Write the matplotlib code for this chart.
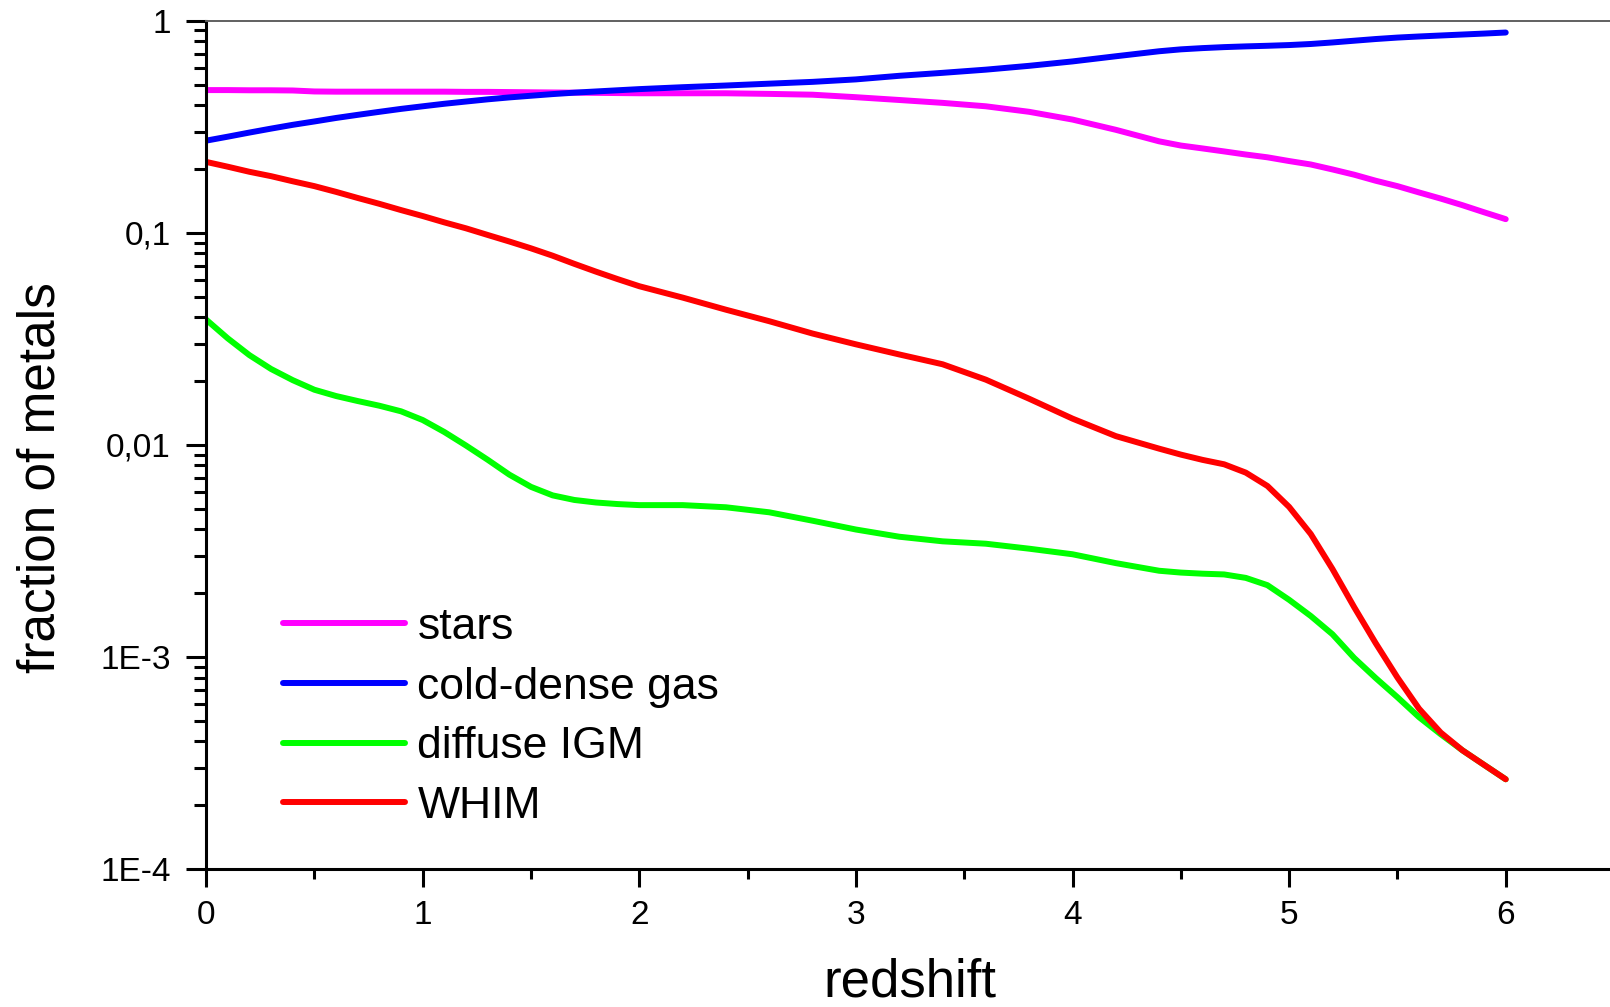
import matplotlib
matplotlib.use("Agg")
import matplotlib.pyplot as plt
from matplotlib.ticker import FixedLocator, FixedFormatter, MultipleLocator, LogLocator, NullFormatter

plt.rcParams["font.family"] = ["Liberation Sans", "DejaVu Sans"]

# redshift grid of the curves
redshift = [0.0, 0.1, 0.2, 0.3, 0.4, 0.5, 0.6, 0.7, 0.8, 0.9, 1.0, 1.1, 1.2, 1.3, 1.4,
            1.5, 1.6, 1.7, 1.8, 1.9, 2.0, 2.2, 2.4, 2.6, 2.8, 3.0, 3.2, 3.4, 3.6, 3.8,
            4.0, 4.2, 4.4, 4.5, 4.6, 4.7, 4.8, 4.9, 5.0, 5.1, 5.2, 5.3, 5.4, 5.5, 5.6,
            5.7, 5.8, 5.9, 6.0]

stars = [0.471, 0.471, 0.470, 0.470, 0.469, 0.464, 0.463, 0.463, 0.463, 0.463, 0.463,
         0.463, 0.462, 0.462, 0.461, 0.460, 0.459, 0.458, 0.457, 0.456, 0.455, 0.455,
         0.455, 0.452, 0.448, 0.436, 0.423, 0.410, 0.395, 0.372, 0.342, 0.306, 0.270,
         0.258, 0.250, 0.242, 0.234, 0.227, 0.218, 0.210, 0.199, 0.188, 0.176, 0.166,
         0.155, 0.145, 0.135, 0.125, 0.116]

cold_dense = [0.272, 0.284, 0.297, 0.310, 0.323, 0.335, 0.348, 0.360, 0.372, 0.384, 0.395,
              0.406, 0.416, 0.426, 0.435, 0.443, 0.451, 0.458, 0.464, 0.470, 0.476, 0.486,
              0.495, 0.505, 0.515, 0.529, 0.550, 0.568, 0.588, 0.613, 0.643, 0.680, 0.718,
              0.733, 0.743, 0.751, 0.757, 0.762, 0.768, 0.777, 0.790, 0.805, 0.820, 0.833,
              0.843, 0.852, 0.861, 0.870, 0.880]

diffuse_igm = [0.0390, 0.0318, 0.0265, 0.0228, 0.0202, 0.0182, 0.0170, 0.0161, 0.0153,
               0.0144, 0.0131, 0.0115, 0.00993, 0.00851, 0.00724, 0.00634, 0.00578,
               0.00550, 0.00535, 0.00526, 0.00520, 0.00520, 0.00508, 0.00481, 0.00439,
               0.00399, 0.00369, 0.00351, 0.00342, 0.00324, 0.00305, 0.00277, 0.00255,
               0.00250, 0.00247, 0.00245, 0.00236, 0.00218, 0.00186, 0.00156, 0.00128,
               0.00099, 0.000795, 0.000646, 0.000520, 0.000432, 0.000363, 0.000310,
               0.000265]

whim = [0.216, 0.205, 0.194, 0.185, 0.175, 0.166, 0.156, 0.146, 0.137, 0.128, 0.120,
        0.112, 0.105, 0.0977, 0.0910, 0.0845, 0.0780, 0.0714, 0.0656, 0.0605, 0.0560,
        0.0495, 0.0434, 0.0383, 0.0335, 0.0298, 0.0267, 0.0240, 0.0203, 0.0165, 0.0133,
        0.0110, 0.0096, 0.0090, 0.0085, 0.0081, 0.0074, 0.0064, 0.0051, 0.0038, 0.0026,
        0.00172, 0.00116, 0.00080, 0.00057, 0.00044, 0.000363, 0.000310, 0.000265]

series_names = ["stars", "cold-dense gas", "diffuse IGM", "WHIM"]
series_colors = ["#ff00ff", "#0000ff", "#00ff00", "#ff0000"]

y_ticks = [1e-4, 1e-3, 1e-2, 1e-1, 1]
y_tick_labels = ["1E-4", "1E-3", "0,01", "0,1", "1"]
x_ticks = [0, 1, 2, 3, 4, 5, 6]

fig = plt.figure(figsize=(16.1, 10.07), dpi=100)
ax = fig.add_axes([0.128, 0.137, 0.8745, 0.8424])

for vals, name, col in zip([stars, cold_dense, diffuse_igm, whim], series_names, series_colors):
    ax.plot(redshift, vals, color=col, lw=4.3, label=name, solid_capstyle="round")

ax.set_yscale("log")
ax.set_ylim(1e-4, 1)
ax.set_xlim(0, 6.5)

ax.yaxis.set_major_locator(FixedLocator(y_ticks))
ax.yaxis.set_major_formatter(FixedFormatter(y_tick_labels))
ax.yaxis.set_minor_locator(LogLocator(base=10, subs=range(2, 10), numticks=20))
ax.yaxis.set_minor_formatter(NullFormatter())
ax.xaxis.set_major_locator(FixedLocator(x_ticks))
ax.xaxis.set_minor_locator(MultipleLocator(0.5))

ax.tick_params(axis="y", which="major", direction="out", length=14.4, width=2.2,
               labelsize=24, pad=11)
ax.tick_params(axis="y", which="minor", direction="out", length=8.5, width=2.2)
ax.tick_params(axis="x", which="major", direction="out", length=13, width=2.2,
               labelsize=24, pad=9)
ax.tick_params(axis="x", which="minor", direction="out", length=7, width=2.2)

ax.spines["left"].set_linewidth(2.2)
ax.spines["bottom"].set_linewidth(2.2)
ax.spines["top"].set_linewidth(1.4)
ax.spines["top"].set_color("#606060")
ax.spines["right"].set_visible(False)

ax.set_xlabel("redshift", fontsize=38)
ax.set_ylabel("fraction of metals", fontsize=37)
ax.xaxis.set_label_coords(0.5, -0.104)
ax.yaxis.set_label_coords(-0.100, 0.462)

ax.legend(loc="upper left", bbox_to_anchor=(0.0547, 0.309), frameon=False,
          fontsize=32, handlelength=2.75, handletextpad=0.27, labelspacing=0.42,
          borderpad=0, borderaxespad=0)

plt.savefig("out.png", dpi=100)
